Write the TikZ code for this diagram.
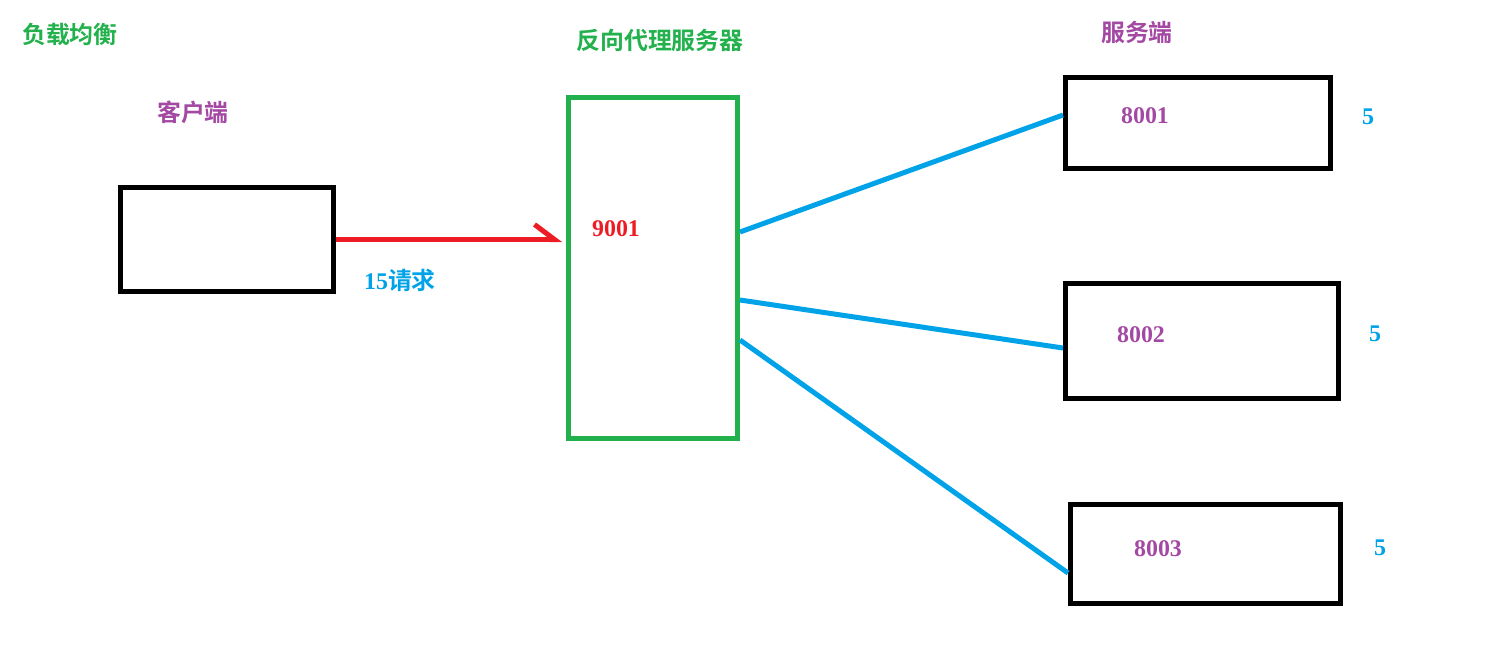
\documentclass[tikz,border=0pt]{standalone}
\usepackage{fontspec}
\setmainfont{Liberation Serif}
\newfontfamily\cjk{Noto Sans CJK SC}[BoldFont={* Bold}]
\usetikzlibrary{positioning,calc,arrows.meta}
\definecolor{lbgreen}{RGB}{34,177,76}
\definecolor{lbpurple}{RGB}{163,73,164}
\definecolor{lbblue}{RGB}{0,162,232}
\definecolor{lbred}{RGB}{237,28,36}

\begin{document}
\begin{tikzpicture}[font=\fontsize{6.8}{8}\selectfont\bfseries]
    \tikzstyle{box} = [draw,line width=0.05cm,inner sep=0pt]
    \tikzstyle{title} = [font=\fontsize{6.8}{8}\selectfont\cjk\bfseries]
    \tikzstyle{link} = [lbblue,line width=0.05cm]
      \useasboundingbox (0,0) rectangle (14.95,6.46);
      \node[title,lbgreen] (topic) at (0.70,6.11) {负载均衡};
      \node[title,lbgreen] (proxyTitle) at (6.60,6.06) {反向代理服务器};
      \node[title,lbpurple] (clientTitle) at (1.93,5.34) {客户端};
      \node[title,lbpurple] (serverTitle) at (11.37,6.14) {服务端};
      \node[box,minimum width=2.13cm,minimum height=1.04cm] (client) at (2.27,4.065) {};
      \node[box,lbgreen,minimum width=1.69cm,minimum height=3.41cm] (proxy) at (6.53,3.78) {};
      \node[box,minimum width=2.65cm,minimum height=0.91cm] (srvA) at (11.98,5.23) {};
      \node[box,minimum width=2.73cm,minimum height=1.15cm] (srvB) at (12.02,3.05) {};
      \node[box,minimum width=2.70cm,minimum height=0.99cm] (srvC) at (12.055,0.92) {};
      \node[lbred] (proxyPort) at (6.16,4.17) {9001};
      \node[lbpurple] (portA) at (11.45,5.30) {8001};
      \node[lbpurple] (portB) at (11.41,3.11) {8002};
      \node[lbpurple] (portC) at (11.58,0.97) {8003};
      \node[lbblue] (loadA) at (13.68,5.29) {5};
      \node[lbblue] (loadB) at (13.75,3.12) {5};
      \node[lbblue] (loadC) at (13.80,0.98) {5};
      \node[lbblue] (requests) at (4.00,3.66) {15{\cjk\bfseries 请求}};
      \draw[lbred,line width=0.05cm,-{Straight Barb[left,length=0.2cm,width=0.3cm]}] (client.east) -- ($(client.east -| proxy.west)+(-0.04,0)$);
      \draw[link] ([yshift=0.36cm]proxy.east) -- ([yshift=0.08cm]srvA.west);
      \draw[link] ([yshift=-0.32cm]proxy.east) -- ([yshift=-0.07cm]srvB.west);
      \draw[link] ([yshift=-0.72cm]proxy.east) -- ([yshift=-0.19cm]srvC.west);
  \end{tikzpicture}
\end{document}
